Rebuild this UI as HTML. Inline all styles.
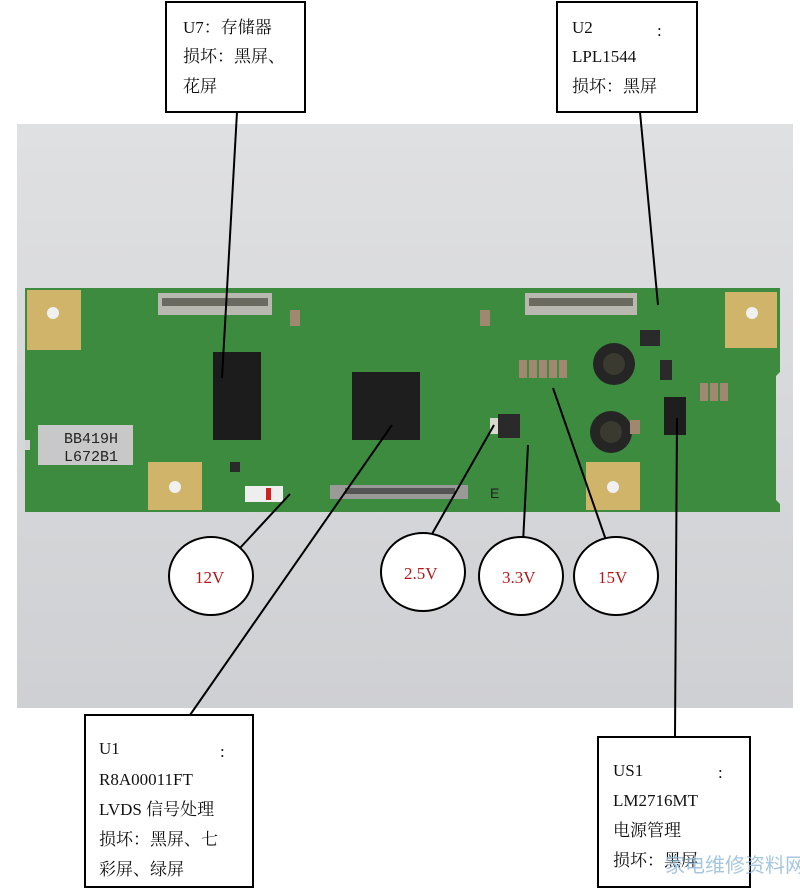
<!DOCTYPE html>
<html><head><meta charset="utf-8"><style>
html,body{margin:0;padding:0;background:#fff;width:800px;height:894px;overflow:hidden}
.t{font-family:"Liberation Serif","Noto Serif CJK SC",serif;font-size:17px;fill:#111}
.v{font-family:"Liberation Serif",serif;font-size:17px;fill:#b01818}
</style></head><body>
<svg width="800" height="894" viewBox="0 0 800 894" xmlns="http://www.w3.org/2000/svg">
<defs>
<linearGradient id="bg" x1="0" y1="0" x2="0" y2="1">
<stop offset="0" stop-color="#dfe0e2"/><stop offset="1" stop-color="#cfd0d3"/></linearGradient>
</defs>
<rect x="17" y="124" width="776" height="584" fill="url(#bg)"/>
<!-- PCB -->
<path d="M25 288 H780 V372 L776 376 V500 L780 504 V512 H25 Z" fill="#3d8b3f"/>
<path d="M25 440 h5 v10 h-5 z" fill="#d0d2d4"/>
<!-- gold pads -->
<rect x="27" y="290" width="54" height="60" fill="#cfb46a"/>
<rect x="725" y="292" width="52" height="56" fill="#cfb46a"/>
<rect x="148" y="462" width="54" height="48" fill="#cfb46a"/>
<rect x="586" y="462" width="54" height="48" fill="#cfb46a"/>
<circle cx="53" cy="313" r="6" fill="#f0f0f0"/><circle cx="752" cy="313" r="6" fill="#f0f0f0"/>
<circle cx="175" cy="487" r="6" fill="#f0f0f0"/><circle cx="613" cy="487" r="6" fill="#f0f0f0"/>
<!-- connectors -->
<rect x="158" y="293" width="114" height="22" fill="#b8b8b0"/><rect x="162" y="298" width="106" height="8" fill="#6a6a60"/>
<rect x="525" y="293" width="112" height="22" fill="#b8b8b0"/><rect x="529" y="298" width="104" height="8" fill="#6a6a60"/>
<rect x="330" y="485" width="138" height="14" fill="#9a9a98"/><rect x="345" y="488" width="110" height="6" fill="#555"/>
<rect x="245" y="486" width="38" height="16" fill="#eeeeee"/><rect x="266" y="488" width="5" height="12" fill="#d02020"/>
<!-- label sticker -->
<rect x="38" y="425" width="95" height="40" fill="#c8c8c8"/>
<text x="64" y="443" font-family="Liberation Mono,monospace" font-size="15" fill="#222">BB419H</text>
<text x="64" y="461" font-family="Liberation Mono,monospace" font-size="15" fill="#222">L672B1</text>
<!-- ICs -->
<rect x="213" y="352" width="48" height="88" fill="#1c1c1c"/>
<rect x="352" y="372" width="68" height="68" fill="#1e1e1e"/>
<rect x="664" y="397" width="22" height="38" fill="#1e1e1e"/>
<rect x="490" y="418" width="14" height="16" fill="#d8d8d0"/><rect x="498" y="414" width="22" height="24" fill="#2a2a2a"/>
<!-- inductors -->
<circle cx="614" cy="364" r="21" fill="#252525"/><circle cx="614" cy="364" r="11" fill="#3a3a30"/>
<circle cx="611" cy="432" r="21" fill="#252525"/><circle cx="611" cy="432" r="11" fill="#3a3a30"/>
<!-- caps -->
<g fill="#a08870"><rect x="519" y="360" width="8" height="18"/><rect x="529" y="360" width="8" height="18"/><rect x="539" y="360" width="8" height="18"/><rect x="549" y="360" width="8" height="18"/><rect x="559" y="360" width="8" height="18"/>
<rect x="700" y="383" width="8" height="18"/><rect x="710" y="383" width="8" height="18"/><rect x="720" y="383" width="8" height="18"/>
<rect x="290" y="310" width="10" height="16"/><rect x="480" y="310" width="10" height="16"/><rect x="630" y="420" width="10" height="14"/></g>
<g fill="#2a2a2a"><rect x="640" y="330" width="20" height="16"/><rect x="660" y="360" width="12" height="20"/><rect x="230" y="462" width="10" height="10"/></g>
<text x="490" y="498" font-family="Liberation Sans,sans-serif" font-size="14" fill="#222">E</text>
<!-- connector lines -->
<g stroke="#000" stroke-width="2" fill="none">
<line x1="237" y1="112" x2="222" y2="378"/>
<line x1="640" y1="112" x2="658" y2="305"/>
<line x1="240" y1="548" x2="290" y2="494"/>
<line x1="190" y1="715" x2="392" y2="425"/>
<line x1="428" y1="541" x2="494" y2="425"/>
<line x1="523" y1="543" x2="528" y2="445"/>
<line x1="607" y1="543" x2="553" y2="388"/>
<line x1="675" y1="737" x2="677" y2="418"/>
</g>
<!-- circles -->
<g fill="#fff" stroke="#000" stroke-width="2">
<ellipse cx="211" cy="576" rx="42" ry="39"/>
<ellipse cx="423" cy="572" rx="42" ry="39"/>
<ellipse cx="521" cy="576" rx="42" ry="39"/>
<ellipse cx="616" cy="576" rx="42" ry="39"/>
</g>
<text class="v" x="195" y="583">12V</text>
<text class="v" x="404" y="579">2.5V</text>
<text class="v" x="502" y="583">3.3V</text>
<text class="v" x="598" y="583">15V</text>
<!-- boxes -->
<g fill="#fff" stroke="#000" stroke-width="2">
<rect x="166" y="2" width="139" height="110"/>
<rect x="557" y="2" width="140" height="110"/>
<rect x="85" y="715" width="168" height="172"/>
<rect x="598" y="737" width="152" height="150"/>
</g>
<text class="t" x="183" y="33">U7：存储器</text>
<text class="t" x="183" y="62">损坏：黑屏、</text>
<text class="t" x="183" y="92">花屏</text>
<text class="t" x="572" y="33">U2</text><text class="t" x="657" y="36">:</text>
<text class="t" x="572" y="62">LPL1544</text>
<text class="t" x="572" y="92">损坏：黑屏</text>
<text class="t" x="99" y="754">U1</text><text class="t" x="220" y="757">:</text>
<text class="t" x="99" y="785">R8A00011FT</text>
<text class="t" x="99" y="815">LVDS 信号处理</text>
<text class="t" x="99" y="845">损坏：黑屏、七</text>
<text class="t" x="99" y="875">彩屏、绿屏</text>
<text class="t" x="613" y="776">US1</text><text class="t" x="718" y="778">:</text>
<text class="t" x="613" y="806">LM2716MT</text>
<text class="t" x="613" y="836">电源管理</text>
<text class="t" x="613" y="866">损坏：黑屏</text>
<text x="665" y="872" font-family="Liberation Sans,Noto Sans CJK SC,sans-serif" font-size="20" fill="#8fb8d8" opacity="0.8">家电维修资料网</text>
</svg>
</body></html>
